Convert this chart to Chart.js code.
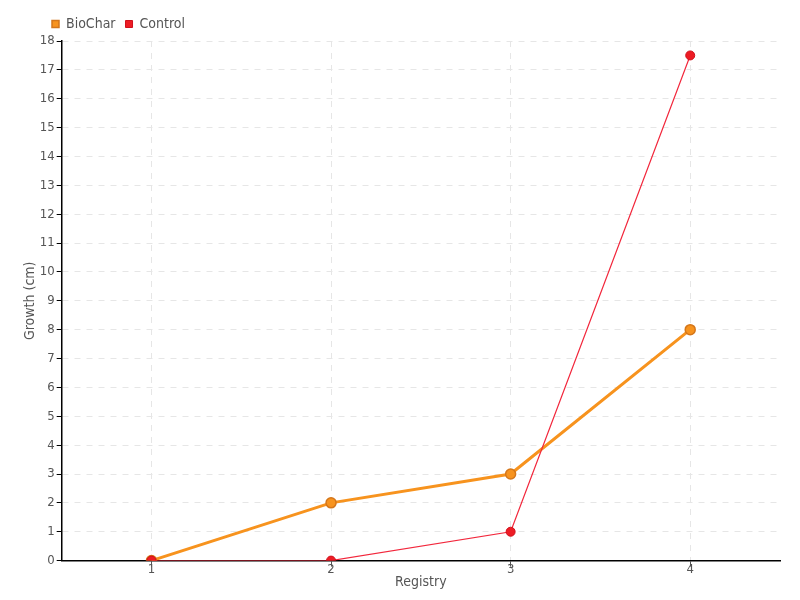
<!DOCTYPE html>
<html>
<head>
<meta charset="utf-8">
<script src="https://cdn.jsdelivr.net/npm/chart.js@4"></script>
<style>
  html, body { margin: 0; padding: 0; background: #fff; }
  #wrap { width: 800px; height: 600px; }
</style>
</head>
<body>
<div id="wrap"><canvas id="growthChart" width="800" height="600"></canvas></div>
<script>
// ------- Data -------
const registry = ['1', '2', '3', '4'];
const bioChar = [0, 2, 3, 8];
const control = [0, 0, 1, 17.5];

const FONT = "'DejaVu Sans Condensed', 'Liberation Sans Narrow', 'Roboto', sans-serif";
const TEXT_COLOR = '#555';

const ctx = document.getElementById('growthChart').getContext('2d');

// nudge the legend right so it sits just left of the y axis, like the original
const legendNudge = {
  id: 'legendNudge',
  afterLayout(chart) {
    if (chart.legend) chart.legend.left += 25;
  }
};

new Chart(ctx, {
  type: 'line',
  data: {
    labels: registry,
    datasets: [
      {
        label: 'BioChar',
        data: bioChar,
        borderColor: '#f7931e',
        backgroundColor: '#f7931e',
        pointBackgroundColor: '#f7931e',
        pointBorderColor: '#d4761a',
        borderWidth: 3,
        pointBorderWidth: 1.5,
        pointRadius: 5,
        pointStyle: 'circle',
        tension: 0,
        order: 1
      },
      {
        label: 'Control',
        data: control,
        borderColor: '#f2273c',
        backgroundColor: '#ed1c24',
        pointBackgroundColor: '#ed1c24',
        pointBorderColor: '#d0101c',
        borderWidth: 1.2,
        pointBorderWidth: 1,
        pointRadius: 4.5,
        pointStyle: 'circle',
        tension: 0,
        order: 0
      }
    ]
  },
  options: {
    responsive: false,
    animation: false,
    layout: { padding: { top: 7, right: 20, left: 17, bottom: 9 } },
    plugins: {
      legend: {
        position: 'top',
        align: 'start',
        labels: {
          usePointStyle: true,
          pointStyle: 'rect',
          boxWidth: 7,
          boxHeight: 7,
          padding: 10,
          color: TEXT_COLOR,
          font: { family: FONT, size: 14 },
          sort: (a, b) => a.datasetIndex - b.datasetIndex
        }
      },
      tooltip: { enabled: false }
    },
    scales: {
      x: {
        type: 'category',
        offset: true,
        grid: {
          offset: false,
          color: '#e6e6e6',
          tickColor: '#555',
          tickLength: 6
        },
        border: { color: '#000', width: 1.5, dash: [6, 6] },
        ticks: { color: TEXT_COLOR, padding: -5, font: { family: FONT, size: 13 } },
        title: {
          display: true,
          text: 'Registry',
          color: TEXT_COLOR,
          padding: { top: 2, bottom: 0 },
          font: { family: FONT, size: 14 }
        }
      },
      y: {
        min: 0,
        max: 18,
        grid: {
          color: '#e6e6e6',
          tickColor: '#000',
          tickLength: 5
        },
        border: { color: '#000', width: 1.5, dash: [6, 6] },
        ticks: {
          stepSize: 1,
          color: TEXT_COLOR,
          padding: 2,
          font: { family: FONT, size: 13 }
        },
        title: {
          display: true,
          text: 'Growth (cm)',
          color: TEXT_COLOR,
          padding: { top: 5, bottom: -1 },
          font: { family: FONT, size: 14 }
        }
      }
    }
  },
  plugins: [legendNudge]
});
</script>
</body>
</html>
